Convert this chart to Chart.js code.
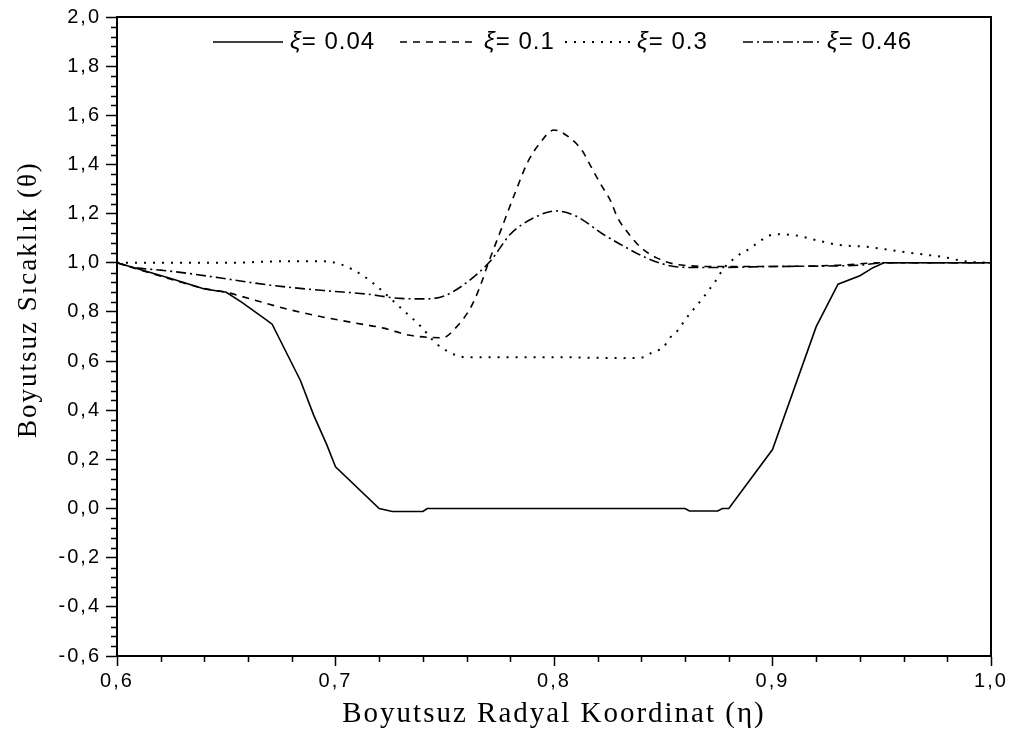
<!DOCTYPE html>
<html>
<head>
<meta charset="utf-8">
<script src="https://cdn.jsdelivr.net/npm/chart.js@4.4.1/dist/chart.umd.min.js"></script>
<style>
  html, body { margin: 0; padding: 0; background: #fff; }
  #wrap { width: 1010px; height: 744px; }
</style>
</head>
<body>
<div id="wrap"><canvas id="c" width="1010" height="744"></canvas></div>
<script>
// Dimensionless radial coordinate (eta) and temperature (theta) for each xi
const eta004 = [0.6, 0.625, 0.64, 0.65, 0.657, 0.668, 0.671, 0.684, 0.69, 0.696, 0.70, 0.72, 0.726, 0.74, 0.742, 0.86, 0.862, 0.875, 0.877, 0.88, 0.90, 0.92, 0.93, 0.94, 0.946, 0.951, 0.96, 1.0];
const theta004 = [1.0, 0.935, 0.893, 0.88, 0.84, 0.77, 0.75, 0.52, 0.38, 0.26, 0.17, 0.0, -0.012, -0.012, 0.0, 0.0, -0.01, -0.01, 0.0, 0.0, 0.24, 0.74, 0.913, 0.947, 0.98, 1.0, 1.0, 1.0];

const eta01 = [0.6, 0.61, 0.627, 0.64, 0.65, 0.661, 0.676, 0.691, 0.707, 0.722, 0.734, 0.749, 0.755, 0.762, 0.766, 0.77, 0.776, 0.782, 0.788, 0.793, 0.80, 0.807, 0.813, 0.817, 0.821, 0.826, 0.829, 0.834, 0.84, 0.847, 0.855, 0.862, 0.87, 0.90, 0.93, 0.95, 1.0];
const theta01 = [1.0, 0.972, 0.927, 0.895, 0.88, 0.853, 0.816, 0.785, 0.758, 0.734, 0.705, 0.695, 0.735, 0.82, 0.9, 1.0, 1.14, 1.28, 1.41, 1.48, 1.54, 1.51, 1.455, 1.39, 1.325, 1.25, 1.185, 1.12, 1.06, 1.02, 0.995, 0.988, 0.985, 0.985, 0.99, 1.0, 1.0];

const eta03 = [0.6, 0.65, 0.676, 0.694, 0.702, 0.7127, 0.7204, 0.7295, 0.7387, 0.7463, 0.7554, 0.76, 0.80, 0.831, 0.841, 0.845, 0.85, 0.853, 0.857, 0.86, 0.864, 0.868, 0.871, 0.8744, 0.8775, 0.8843, 0.8897, 0.8935, 0.8984, 0.903, 0.9118, 0.9164, 0.921, 0.93, 0.943, 0.9517, 0.9616, 0.97, 0.979, 0.988, 1.0];
const theta03 = [1.0, 1.0, 1.006, 1.006, 0.995, 0.947, 0.893, 0.819, 0.744, 0.67, 0.623, 0.616, 0.616, 0.612, 0.616, 0.636, 0.656, 0.694, 0.728, 0.768, 0.812, 0.855, 0.89, 0.932, 0.975, 1.03, 1.058, 1.083, 1.11, 1.116, 1.11, 1.10, 1.09, 1.073, 1.065, 1.055, 1.042, 1.033, 1.022, 1.006, 1.0];

const eta046 = [0.6, 0.608, 0.62, 0.629, 0.646, 0.661, 0.676, 0.696, 0.714, 0.7295, 0.742, 0.75, 0.759, 0.771, 0.78, 0.791, 0.801, 0.81, 0.8225, 0.833, 0.842, 0.853, 0.862, 0.876, 0.90, 0.94, 0.95, 1.0];
const theta046 = [1.0, 0.981, 0.97, 0.961, 0.94, 0.92, 0.903, 0.886, 0.873, 0.855, 0.853, 0.866, 0.913, 1.008, 1.116, 1.184, 1.211, 1.19, 1.116, 1.062, 1.021, 0.988, 0.981, 0.981, 0.985, 0.99, 1.0, 1.0];

const seriesLabels = ['0.04', '0.1', '0.3', '0.46'];
const xTickValues = [0.6, 0.7, 0.8, 0.9, 1.0];
const yTickValues = [-0.6, -0.4, -0.2, 0.0, 0.2, 0.4, 0.6, 0.8, 1.0, 1.2, 1.4, 1.6, 1.8, 2.0];
const yTitle = 'Boyutsuz Sıcaklık (θ)';
const xTitle = 'Boyutsuz Radyal Koordinat (η)';

const dashes = [[], [7, 6], [2, 7], [10, 4, 2, 4]];
const tensions = [0, 0.3, 0.3, 0.3];
const etas = [eta004, eta01, eta03, eta046];
const thetas = [theta004, theta01, theta03, theta046];

const SANS = '"Liberation Sans", Arial, sans-serif';
const SERIF = '"Liberation Serif", "Times New Roman", serif';

const comma = v => (Math.round(v * 10) / 10).toFixed(1).replace('.', ',');

// Spaced lettering for the axis text
const spacing = {
  id: 'spacing',
  beforeDraw(chart) { chart.ctx.letterSpacing = '2px'; },
  afterDraw(chart) { chart.ctx.letterSpacing = '0px'; }
};

// Minor ticks, plot frame, vertical axis title and the inline legend
const decorations = {
  id: 'decorations',
  afterDraw(chart) {
    const ctx = chart.ctx;
    const a = chart.chartArea;
    const xs = chart.scales.x, ys = chart.scales.y;
    ctx.save();
    ctx.strokeStyle = '#000';
    ctx.lineWidth = 1.5;
    ctx.setLineDash([]);
    ctx.beginPath();
    for (let k = 0; k <= 20; k++) {
      if (k % 5 === 0) continue;
      const px = Math.round(xs.getPixelForValue(0.6 + k * 0.02)) + 0.5;
      ctx.moveTo(px, a.bottom);
      ctx.lineTo(px, a.bottom + 6);
    }
    for (let k = 0; k <= 65; k++) {
      if (k % 5 === 0) continue;
      const py = Math.round(ys.getPixelForValue(-0.6 + k * 0.04)) + 0.5;
      ctx.moveTo(a.left, py);
      ctx.lineTo(a.left - 6, py);
    }
    ctx.stroke();

    ctx.lineWidth = 2;
    ctx.strokeRect(a.left, a.top, a.right - a.left, a.bottom - a.top);

    // vertical axis title, reading upward
    ctx.save();
    ctx.letterSpacing = '2px';
    ctx.fillStyle = '#000';
    ctx.font = '27px ' + SERIF;
    ctx.textAlign = 'center';
    ctx.textBaseline = 'middle';
    ctx.translate(29, ys.getPixelForValue(0.85));
    ctx.rotate(-Math.PI / 2);
    ctx.fillText(yTitle, 0, 0);
    ctx.restore();

    // legend: sample line followed by its label
    ctx.letterSpacing = '1px';
    const ly = a.top + 25;
    const starts = [96, 283, 448, 626];
    const lens = [70, 77, 65, 77];
    chart.data.datasets.forEach((ds, i) => {
      let lx = a.left + starts[i];
      ctx.setLineDash(ds.borderDash);
      ctx.lineWidth = ds.borderWidth;
      ctx.beginPath();
      ctx.moveTo(lx, ly);
      ctx.lineTo(lx + lens[i], ly);
      ctx.stroke();
      lx += lens[i] + 7;
      ctx.setLineDash([]);
      ctx.fillStyle = '#000';
      ctx.textBaseline = 'middle';
      ctx.textAlign = 'left';
      ctx.font = 'italic 24px ' + SANS;
      ctx.fillText('ξ', lx, ly);
      lx += ctx.measureText('ξ').width;
      ctx.font = '24px ' + SANS;
      ctx.fillText('= ' + seriesLabels[i], lx, ly);
    });
    ctx.restore();
  }
};

new Chart(document.getElementById('c'), {
  type: 'line',
  data: {
    datasets: seriesLabels.map((lab, i) => ({
      label: 'ξ= ' + lab,
      data: etas[i].map((x, j) => ({ x: x, y: thetas[i][j] })),
      borderColor: '#000',
      borderWidth: i === 2 ? 2 : 1.6,
      borderDash: dashes[i],
      borderCapStyle: 'butt',
      tension: tensions[i],
      cubicInterpolationMode: i === 0 ? 'default' : 'monotone',
      pointRadius: 0,
      fill: false
    }))
  },
  options: {
    responsive: false,
    devicePixelRatio: 1,
    animation: false,
    layout: { padding: { top: 15, right: 19, bottom: 0, left: 0 } },
    plugins: { legend: { display: false }, tooltip: { enabled: false } },
    scales: {
      x: {
        type: 'linear',
        min: 0.6, max: 1.0,
        afterBuildTicks: s => { s.ticks = xTickValues.map(v => ({ value: v })); },
        afterFit: s => { s.height = 88; },
        ticks: {
          callback: v => comma(v),
          color: '#000',
          font: { family: SANS, size: 20 },
          padding: 3,
          maxRotation: 0
        },
        grid: { drawOnChartArea: false, tickLength: 10, color: '#000', tickWidth: 1.5 },
        border: { display: true, color: '#000', width: 2 },
        title: {
          display: true,
          text: xTitle,
          color: '#000',
          font: { family: SERIF, size: 29 },
          padding: { top: 0, bottom: 12 }
        }
      },
      y: {
        type: 'linear',
        min: -0.6, max: 2.0,
        afterBuildTicks: s => { s.ticks = yTickValues.map(v => ({ value: v })); },
        afterFit: s => { s.width = 117; },
        ticks: {
          callback: v => comma(v),
          color: '#000',
          font: { family: SANS, size: 20 },
          padding: 5
        },
        grid: { drawOnChartArea: false, tickLength: 11, color: '#000', tickWidth: 1.5 },
        border: { display: true, color: '#000', width: 2 }
      }
    }
  },
  plugins: [spacing, decorations]
});
</script>
</body>
</html>
